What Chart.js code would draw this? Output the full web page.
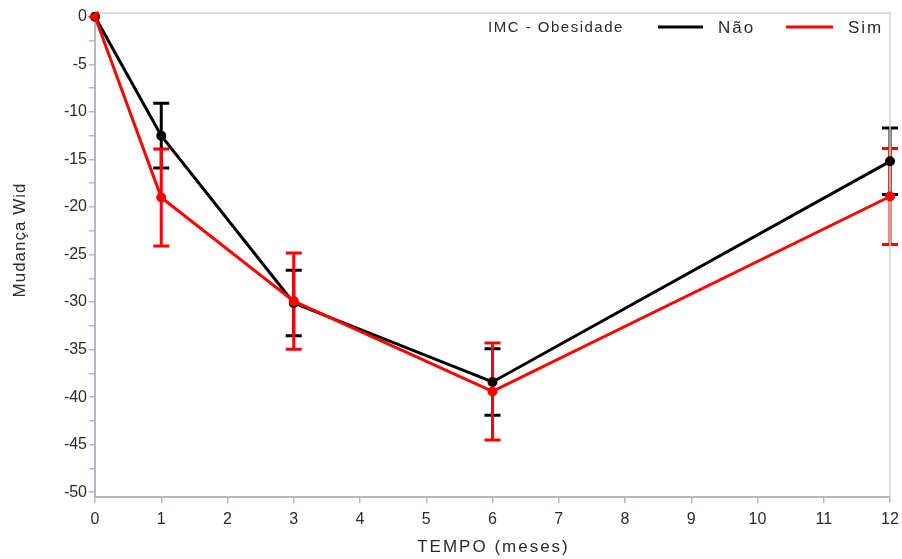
<!DOCTYPE html>
<html>
<head>
<meta charset="utf-8">
<script src="https://cdn.jsdelivr.net/npm/chart.js@4.4.1/dist/chart.umd.min.js"></script>
<style>
  body { margin: 0; background: #fff; }
  #grafico { display: block; }
</style>
</head>
<body>
<canvas id="grafico" width="902" height="559"></canvas>
<script>
// tempo de seguimento (meses)
const tempo = [0, 1, 3, 6, 12];

// IMC - Obesidade = Não
const naoMedia = [0, -12.5, -30.1, -38.4, -15.2];
const naoErro = [0, 3.4, 3.45, 3.5, 3.5];

// IMC - Obesidade = Sim
const simMedia = [0, -19.0, -29.9, -39.4, -18.9];
const simErro = [0, 5.1, 5.05, 5.1, 5.05];

const legendaTitulo = 'IMC - Obesidade';
const tituloX = 'TEMPO (meses)';
const tituloY = 'Mudança Wid';

const fonte = '"Liberation Sans", Arial, sans-serif';
const corEixo = '#b3b8be';
const corTexto = '#2b2b2b';

function pontos(medias) {
  return tempo.map((t, i) => ({ x: t, y: medias[i] }));
}

// barras de erro (média ± erro), desenhadas antes das linhas
const barrasErro = {
  id: 'barrasErro',
  beforeDatasetsDraw(chart) {
    const ctx = chart.ctx;
    const xs = chart.scales.x, ys = chart.scales.y;
    // preto primeiro, vermelho por cima
    [1, 0].forEach(idx => {
      const ds = chart.data.datasets[idx];
      ctx.save();
      ctx.strokeStyle = ds.borderColor;
      ctx.lineWidth = 3;
      ds.erro.forEach((e, i) => {
        if (!e) return;
        const x = xs.getPixelForValue(tempo[i]);
        const y1 = ys.getPixelForValue(ds.medias[i] + e);
        const y2 = ys.getPixelForValue(ds.medias[i] - e);
        ctx.beginPath();
        ctx.moveTo(x, y1); ctx.lineTo(x, y2);
        ctx.moveTo(x - 8, y1); ctx.lineTo(x + 8, y1);
        ctx.moveTo(x - 8, y2); ctx.lineTo(x + 8, y2);
        ctx.stroke();
      });
      ctx.restore();
    });
  }
};

// moldura, títulos dos eixos e legenda
const moldura = {
  id: 'moldura',
  beforeDatasetsDraw(chart) {
    const { ctx, chartArea: a } = chart;
    ctx.save();
    ctx.strokeStyle = '#cfd2d5';
    ctx.lineWidth = 1.5;
    ctx.beginPath();
    ctx.moveTo(a.left, a.top); ctx.lineTo(a.right, a.top); ctx.lineTo(a.right, a.bottom);
    ctx.stroke();
    ctx.restore();
  },
  afterDraw(chart) {
    const { ctx, chartArea: a } = chart;
    ctx.save();
    ctx.fillStyle = corTexto;
    ctx.font = '17px ' + fonte;
    ctx.letterSpacing = '2px';
    ctx.textBaseline = 'middle';
    ctx.textAlign = 'center';
    ctx.fillText(tituloX, (a.left + a.right) / 2 + 1, 547);
    ctx.letterSpacing = '1px';
    ctx.translate(20, 240);
    ctx.rotate(-Math.PI / 2);
    ctx.fillText(tituloY, 0, 0);
    ctx.letterSpacing = '0px';
    ctx.restore();

    ctx.save();
    ctx.font = '15px ' + fonte;
    ctx.letterSpacing = '1.5px';
    ctx.textBaseline = 'middle';
    ctx.textAlign = 'left';
    ctx.fillStyle = corTexto;
    ctx.fillText(legendaTitulo, 488, 28);
    const itens = [
      { ds: chart.data.datasets[1], x0: 658, x1: 703, tx: 718 },
      { ds: chart.data.datasets[0], x0: 786, x1: 833, tx: 848 }
    ];
    itens.forEach(it => {
      ctx.strokeStyle = it.ds.borderColor;
      ctx.lineWidth = 3;
      ctx.beginPath();
      ctx.moveTo(it.x0, 27); ctx.lineTo(it.x1, 27);
      ctx.stroke();
      ctx.font = '17px ' + fonte;
      ctx.letterSpacing = '2px';
      ctx.fillText(it.ds.label, it.tx, 28);
    });
    ctx.letterSpacing = '0px';
    ctx.restore();
  }
};

new Chart(document.getElementById('grafico'), {
  type: 'line',
  data: {
    datasets: [
      {
        label: 'Sim',
        data: pontos(simMedia),
        medias: simMedia,
        erro: simErro,
        borderColor: '#ff0000',
        backgroundColor: '#ff0000',
        borderWidth: 3,
        pointRadius: c => (c.dataIndex === 0 ? 7 : 5),
        pointStyle: c => (c.dataIndex === 0 ? 'triangle' : 'circle'),
        pointRotation: c => (c.dataIndex === 0 ? -90 : 0),
        pointBorderWidth: 0,
        tension: 0,
        clip: false,
        order: 1
      },
      {
        label: 'Não',
        data: pontos(naoMedia),
        medias: naoMedia,
        erro: naoErro,
        borderColor: '#000000',
        backgroundColor: '#000000',
        borderWidth: 3,
        pointRadius: 5,
        pointBorderWidth: 0,
        tension: 0,
        clip: false,
        order: 2
      }
    ]
  },
  options: {
    responsive: false,
    animation: false,
    layout: { padding: { top: 13, right: 12, left: 0, bottom: 0 } },
    plugins: {
      legend: { display: false },
      tooltip: { enabled: false }
    },
    scales: {
      x: {
        type: 'linear',
        min: 0,
        max: 12,
        afterFit(s) { s.height = 62; s.paddingRight = 0; s.paddingLeft = 0; },
        border: { color: corEixo, width: 2 },
        grid: { drawOnChartArea: false, drawTicks: true, tickLength: 6, color: corEixo, lineWidth: 1.5 },
        ticks: {
          stepSize: 1,
          padding: 7,
          color: corTexto,
          font: { family: fonte, size: 16 }
        }
      },
      y: {
        min: -50.5,
        max: 0.4,
        afterFit(s) { s.width = 95; },
        border: { color: corEixo, width: 2 },
        grid: { drawOnChartArea: false, drawTicks: true, tickLength: 6, color: corEixo, lineWidth: 1.5 },
        ticks: {
          stepSize: 2.5,
          includeBounds: false,
          padding: 2,
          color: corTexto,
          font: { family: fonte, size: 16 },
          callback: v => (v % 5 === 0 ? String(v) : '')
        }
      }
    }
  },
  plugins: [barrasErro, moldura]
});
</script>
</body>
</html>
